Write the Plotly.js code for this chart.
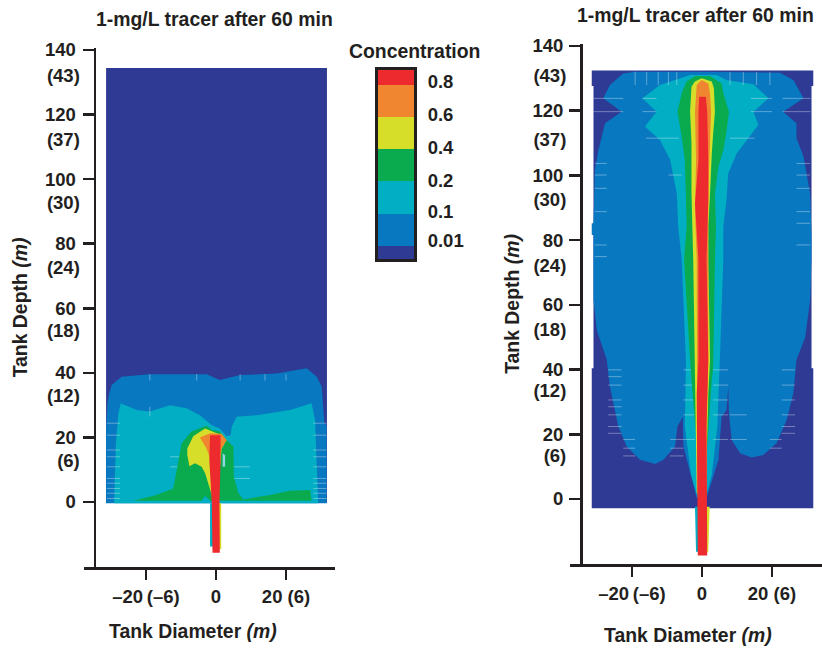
<!DOCTYPE html>
<html>
<head>
<meta charset="utf-8">
<script src="https://cdn.plot.ly/plotly-3.0.1.min.js"></script>
<style>html,body{margin:0;padding:0;background:#fff}#c{width:822px;height:649px}</style>
</head>
<body>
<div id="c"></div>
<script>
// ---------- colours / tick text ----------
const levelNames = ['0.01','0.1','0.2','0.4','0.6','0.8'];
const navy='#2e3a94', blue='#0878c0', cyan='#02aec4', green='#0aab4e', yellow='#d7de2a', orange='#f0862f', red='#ed2a2e';
const depthTicks = [0,20,40,60,80,100,120,140];
const depthText = ['0','20','40','60','80','100','120','140'];
const metreText = ['(6)','(12)','(18)','(24)','(30)','(37)','(43)'];
const leftMetrePos = [13.0,33.1,53.0,72.5,92.9,112.4,132.2];
const rightMetrePos = [13.3,33.4,52.5,72.0,92.4,111.2,131.0];
const diamTicks = [-20,0,20];
const diamText = ['\u201320\u2009(\u20136)','0','20 (6)'];

// ---------- left panel regions (x = diameter ft, y = depth ft) ----------
const Lnavy_x=[-31.4,31.7,31.7,-31.4];
const Lnavy_y=[-0.3,-0.3,134.4,134.4];
const Lblue_x=[-31.4,-31.4,-31.0,-30.5,-29.8,-27.0,-18.9,-2.7,1.1,6.9,17.3,25.9,28.8,30.2,31.0,31.6,31.6];
const Lblue_y=[-0.4,22.3,30.6,33.7,36.2,38.8,39.6,39.6,37.8,39.3,39.8,41.4,38.8,35.7,24.4,23.8,-0.4];
const Lcyan_x=[-29.1,-28.6,-27.9,-27.2,-22.7,-18.9,-13.1,-8.4,-4.6,-1.2,1.1,3.0,4.2,4.5,5.9,11.6,21.1,27.3,28.3,29.2];
const Lcyan_y=[-0.4,18.2,27.5,30.6,28.5,28.0,30.0,29.0,26.9,23.8,22.8,20.4,20.7,23.3,26.4,26.9,28.5,30.6,25.4,-0.4];
const Lgreen_x=[-23.6,-17.0,-12.2,-10.8,-9.8,-7.0,-2.7,-1.2,1.1,3.5,5.0,5.1,6.4,7.8,15.4,21.1,26.9,27.3,1.6,-1.7,-3.1,-4.1];
const Lgreen_y=[0.4,2.2,4.2,13.0,18.2,21.8,23.6,22.3,21.8,18.7,17.1,7.8,2.7,0.8,2.2,3.5,3.7,0.4,0.4,0.4,1.9,0.4];
const Lspot_x=[1.9,2.6,2.6,1.9];
const Lspot_y=[15.1,14.5,11.0,10.9];
const Lyellow_x=[-8.2,-6.5,-3.1,-0.8,1.6,3.0,1.6,1.0,0.5,-0.8,-1.2,-3.1,-4.1,-6.0,-7.6,-8.2];
const Lyellow_y=[16.6,20.4,22.8,21.8,20.7,19.2,16.6,8.9,-0.4,-0.4,2.2,8.9,10.9,12.0,11.1,14.6];
const Lorange_x=[-4.6,-1.7,1.6,3.0,1.6,0.7,-1.2,-2.7];
const Lorange_y=[20.0,21.3,21.1,19.2,16.6,13.0,12.0,16.6];
const Lstemc_x=[-1.7,-1.7,0,0];
const Lstemc_y=[-0.4,-13.8,-13.8,-0.4];
const Lstemy_x=[0,0,1.5,1.5];
const Lstemy_y=[-0.4,-14.6,-14.6,-0.4];
const Lred_x=[-1.7,1.3,1.3,1.0,1.1,-1.0,-1.2,-1.9];
const Lred_y=[20.7,20.7,13.0,-0.4,-15.7,-15.7,-0.4,13.0];

// ---------- right panel regions ----------
const Rnavy_x=[-31.5,31.8,31.8,31.3,31.3,31.8,31.8,-31.5,-31.5,-31.0,-31.0,-31.5];
const Rnavy_y=[-2.9,-2.9,40.4,40.4,127.6,127.6,132.4,132.4,127.6,127.6,40.4,40.4];
const Rblue_x=[-22.5,-19.1,-2.5,22.3,26.1,29.0,23.2,27.0,27.0,29.0,30.9,31.3,31.3,30.9,29.5,27.0,26.1,24.2,21.3,17.5,14.2,10.9,8.5,7.7,7.5,7.0,5.6,4.7,3.2,1.3,-1.5,-3.0,-5.3,-5.5,-7.0,-7.7,-11.0,-13.4,-17.7,-21.5,-23.9,-26.3,-27.2,-30.0,-31.0,-31.0,-31.0,-31.5,-31.5,-31.0,-30.6,-29.6,-27.7,-23.0,-28.2,-26.3];
const Rblue_y=[131.5,132.0,132.0,131.7,129.5,123.8,119.7,116.1,111.5,105.8,94.5,82.1,73.9,61.5,50.0,43.0,32.7,24.4,17.2,13.6,12.8,14.1,18.2,26.5,34.7,27.5,25.4,12.1,6.9,0.2,0.2,6.9,16.2,25.4,22.4,16.2,12.1,10.8,12.1,16.2,22.4,34.7,43.0,52.0,61.5,73.9,81.6,81.6,85.2,85.2,101.7,107.8,116.1,119.7,123.8,127.9];
const Rcyan_x=[-3.4,4.2,7.0,14.7,19.0,14.7,16.1,12.8,9.9,7.5,7.0,6.1,6.1,5.1,4.4,2.8,1.1,-1.3,-3.1,-4.9,-4.6,-5.8,-6.8,-7.2,-9.1,-12.0,-16.3,-13.0,-17.0,-12.0];
const Rcyan_y=[131.0,131.0,129.5,128.2,123.8,119.7,115.6,110.9,106.8,100.6,92.4,84.2,73.9,43.0,22.4,7.4,0.7,0.7,7.4,22.4,43.0,73.9,84.2,94.5,104.8,110.9,115.1,119.7,123.8,127.9];
const Rgreen_x=[-2.0,2.3,5.6,6.1,7.7,7.0,6.1,4.7,3.7,4.0,3.7,3.2,2.8,1.8,0.9,0.4,-0.6,-1.5,-3.0,-3.4,-5.1,-4.4,-4.6,-4.9,-5.8,-7.0,-5.8,-4.4];
const Rgreen_y=[130.7,130.7,128.4,125.4,119.7,113.5,107.8,102.7,94.5,84.2,73.9,40.9,36.8,22.4,6.9,-0.3,-0.3,17.2,36.8,43.0,73.9,84.2,94.5,104.8,112.0,119.7,125.4,129.0];
const Ryellow_x=[-0.1,2.8,3.4,3.7,3.2,2.8,2.3,1.8,1.8,2.3,1.8,1.1,-1.5,-1.8,-2.0,-2.5,-3.0,-3.0,-3.4,-3.0,-2.0];
const Ryellow_y=[130.0,129.0,126.9,119.7,113.0,106.8,94.5,84.2,73.9,43.0,32.7,1.8,1.8,22.4,43.0,73.9,94.5,109.9,119.7,127.4,129.0];
const Rorange_x=[-0.1,1.8,2.3,2.6,2.1,1.8,1.8,1.8,1.3,1.3,-1.3,-1.3,-1.5,-2.0,-1.7,-2.0,-1.5];
const Rorange_y=[129.5,128.4,125.4,119.7,104.8,89.3,73.9,43.0,22.4,1.8,1.8,43.0,73.9,89.3,104.8,119.7,127.9];
const Rstemc_x=[-2.0,-1.7,0,0];
const Rstemc_y=[-2.4,-16.3,-16.3,-2.4];
const Rstemy_x=[0,0,1.8,2.2];
const Rstemy_y=[-2.4,-16.3,-16.3,-2.4];
const Rred_x=[-0.8,1.1,1.5,1.8,1.8,1.3,1.8,1.3,1.5,-1.2,-1.5,-1.0,-1.0,-2.0,-1.0,-1.0];
const Rred_y=[124.3,124.3,119.7,104.8,92.4,73.9,43.0,22.4,-17.5,-17.5,32.7,43.0,73.9,91.4,104.8,119.7];

// ---------- pale mesh marks ----------
const Lmesh_x=[-31.2,-27.4,null,-31.2,-27.4,null,-31.2,-27.4,null,-31.2,-27.4,null,-31.2,-27.4,null,-31.2,-27.4,null,-31.2,-27.4,null,-31.2,-27.4,null,-31.2,-27.4,null,-31.2,-27.4,null,
 27.8,31.6,null,27.8,31.6,null,27.8,31.6,null,27.8,31.6,null,27.8,31.6,null,27.8,31.6,null,27.8,31.6,null,27.8,31.6,null,27.8,31.6,null,27.8,31.6,null,
 -13.1,-8.4,null,-13.1,-8.4,null,5.0,9.7,null,5.0,9.7,null,-18.9,-18.9,null,-18.9,-18.9,null,-5.5,-5.5,null,6.9,6.9,null,14.0,14.0,null,20.0,20.0];
const Lmesh_y=[24.4,24.4,null,20.7,20.7,null,16.1,16.1,null,14.0,14.0,null,10.9,10.9,null,7.3,7.3,null,5.8,5.8,null,4.2,4.2,null,2.7,2.7,null,1.1,1.1,null,
 24.4,24.4,null,20.7,20.7,null,16.1,16.1,null,14.0,14.0,null,10.9,10.9,null,7.3,7.3,null,5.8,5.8,null,4.2,4.2,null,2.7,2.7,null,1.1,1.1,null,
 14.0,14.0,null,10.9,10.9,null,10.9,10.9,null,7.3,7.3,null,26.5,29.5,null,37.6,39.6,null,37.6,39.6,null,37.6,39.6,null,37.6,39.6,null,37.6,39.6];
const Rmesh_x=[-26.8,-23,null,-26.8,-23,null,-26.8,-23,null,-26.8,-23,null,-26.8,-23,null,-26.8,-23,null,-26.8,-23,null,-26.8,-23,null,
 -22.5,-19.1,null,-22.5,-19.1,null,-22.5,-19.1,null,-9.1,-5.3,null,-9.1,-5.3,null,-9.1,-5.3,null,
 -5.3,-2,null,-5.3,-2,null,-5.3,-2,null,-5.3,-2,null,-5.3,-2,null,3.2,7.5,null,3.2,7.5,null,3.2,7.5,null,3.2,7.5,null,3.2,7.5,null,
 8,12.8,null,8,12.8,null,19.4,22.8,null,19.4,22.8,null,22.8,26.6,null,22.8,26.6,null,22.8,26.6,null,22.8,26.6,null,22.8,26.6,null,22.8,26.6,null,
 -30.6,-27.2,null,-30.6,-27.2,null,-30.6,-27.2,null,-30.6,-27.2,null,-30.6,-27.2,null,-30.6,-27.2,null,
 27,30.9,null,27,30.9,null,27,30.9,null,27,30.9,null,27,30.9,null,27,30.9,null,-9.6,-5.8,null,
 -31,-22.5,null,-17,-13,null,-31,-22.5,null,-17,-13,null,14,20,null,23,31,null,14,20,null,23,31,null,-16,-6.6,null,8,15,null,
 -19.1,-19.1,null,-15.8,-15.8,null,-12.5,-12.5,null,-9.6,-9.6,null,-7.2,-7.2,null,8,8,null,11.8,11.8,null,15.6,15.6,null,19.4,19.4];
const Rmesh_y=[39.9,39.9,null,37.8,37.8,null,35.2,35.2,null,30.6,30.6,null,28.5,28.5,null,26,26,null,22.4,22.4,null,20.3,20.3,null,
 18.4,18.4,null,15.7,15.7,null,13.3,13.3,null,18.4,18.4,null,15.7,15.7,null,13.3,13.3,null,
 39.9,39.9,null,35.2,35.2,null,30.6,30.6,null,26,26,null,18.4,18.4,null,39.9,39.9,null,35.2,35.2,null,30.6,30.6,null,26,26,null,18.4,18.4,null,
 26,26,null,18.4,18.4,null,18.4,18.4,null,15.7,15.7,null,39.9,39.9,null,35.2,35.2,null,30.6,30.6,null,26,26,null,22.4,22.4,null,20.3,20.3,null,
 103.7,103.7,null,100.1,100.1,null,96,96,null,88.8,88.8,null,78.5,78.5,null,74.9,74.9,null,
 103.7,103.7,null,100.1,100.1,null,96,96,null,88.8,88.8,null,85.2,85.2,null,78.5,78.5,null,100.1,100.1,null,
 123.8,123.8,null,123.8,123.8,null,119.7,119.7,null,119.7,119.7,null,123.8,123.8,null,123.8,123.8,null,119.7,119.7,null,119.7,119.7,null,111.5,111.5,null,111.5,111.5,null,
 127.9,132,null,127.9,132,null,127.9,132,null,127.9,132,null,127.9,132,null,127.9,132,null,127.9,132,null,127.9,132,null,127.9,132];

// ---------- colour key ----------
const keyBandNames=['<0.01','0.01-0.1','0.1-0.2','0.2-0.4','0.4-0.6','0.6-0.8','>0.8'];
const keyBandHeights=[13,32,32,32,32,32,15];
const keyBandColors=[navy,blue,cyan,green,yellow,orange,red];
const keyLabelPos=[18,47,78,111,143,176];

// ---------- helpers ----------
const W=822,H=649;
const dx=(a,b)=>[a/W,b/W];
const dy=(top,bot)=>[1-bot/H,1-top/H];
const area=(x,y,c,xa,ya,name)=>({type:'scatter',mode:'lines',x:x,y:y,fill:'toself',fillcolor:c,line:{width:0,color:c},xaxis:xa,yaxis:ya,name:name,hoverinfo:'name',showlegend:false});
const mesh=(x,y,xa,ya)=>({type:'scatter',mode:'lines',x:x,y:y,line:{width:1,color:'rgba(255,255,255,0.35)'},xaxis:xa,yaxis:ya,hoverinfo:'skip',showlegend:false,connectgaps:false});

const traces=[
 area(Lnavy_x,Lnavy_y,navy,'x','y','<0.01'),
 area(Lblue_x,Lblue_y,blue,'x','y','0.01'),
 area(Lcyan_x,Lcyan_y,cyan,'x','y','0.1'),
 mesh(Lmesh_x,Lmesh_y,'x','y'),
 area(Lgreen_x,Lgreen_y,green,'x','y','0.2'),
 area(Lspot_x,Lspot_y,'#8fd6df','x','y','0.1'),
 area(Lstemc_x,Lstemc_y,cyan,'x','y','0.1'),
 area(Lstemy_x,Lstemy_y,yellow,'x','y','0.4'),
 area(Lyellow_x,Lyellow_y,yellow,'x','y','0.4'),
 area(Lorange_x,Lorange_y,orange,'x','y','0.6'),
 area(Lred_x,Lred_y,red,'x','y','0.8'),
 area(Rnavy_x,Rnavy_y,navy,'x2','y2','<0.01'),
 area(Rblue_x,Rblue_y,blue,'x2','y2','0.01'),
 area(Rcyan_x,Rcyan_y,cyan,'x2','y2','0.1'),
 mesh(Rmesh_x,Rmesh_y,'x2','y2'),
 area(Rgreen_x,Rgreen_y,green,'x2','y2','0.2'),
 area(Rstemc_x,Rstemc_y,cyan,'x2','y2','0.1'),
 area(Rstemy_x,Rstemy_y,yellow,'x2','y2','0.4'),
 area(Ryellow_x,Ryellow_y,yellow,'x2','y2','0.4'),
 area(Rorange_x,Rorange_y,orange,'x2','y2','0.6'),
 area(Rred_x,Rred_y,red,'x2','y2','0.8')
];
keyBandHeights.forEach((h,i)=>traces.push({type:'bar',x:[0],y:[h],width:1,marker:{color:keyBandColors[i],line:{width:0}},xaxis:'x3',yaxis:'y3',name:keyBandNames[i],hoverinfo:'name',showlegend:false}));

const ink='#231f20';
const bold=(s)=>({family:'"Liberation Sans", Arial, sans-serif',size:s,color:ink,weight:700});
const labelFont=bold(18.5), titleFont=bold(19.4);

const xAxis=(dom,range)=>({domain:dom,range:range,showgrid:false,zeroline:false,showline:true,linewidth:2.5,linecolor:ink,ticks:'outside',ticklen:10,tickwidth:2.5,tickcolor:ink,tickmode:'array',tickvals:diamTicks,ticktext:diamText,tickfont:labelFont,ticklabelstandoff:1,fixedrange:true});
const yAxis=(dom,range,pos,standoff,off)=>({domain:dom,range:range,anchor:'free',position:pos,showgrid:false,zeroline:false,showline:true,linewidth:2.5,linecolor:ink,ticks:'outside',ticklen:11,tickwidth:2.5,tickcolor:ink,tickmode:'array',tickvals:depthTicks,ticktext:depthText,tickfont:labelFont,ticklabelstandoff:off,fixedrange:true,title:{text:'Tank Depth <i>(m)</i>',font:titleFont,standoff:standoff}});
const metreAxis=(dom,range,over,pos,xpos)=>({domain:dom,range:range,overlaying:over,anchor:'free',position:xpos,side:'left',showgrid:false,zeroline:false,showline:false,ticks:'outside',ticklen:11,tickwidth:0,tickcolor:'rgba(0,0,0,0)',tickmode:'array',tickvals:pos,ticktext:metreText,tickfont:labelFont,fixedrange:true});

const LxDom=dx(84,335), LyDom=dy(48,567), RxDom=dx(570,822), RyDom=dy(44,564);
const Lxr=[-37.71,34.0], Lyr=[-20.13,140.6];
const Rxr=[-37.71,34.29], Ryr=[-20.09,140.6];
const LyPos=94.5/W, RyPos=581/W;

const mkTitle=(t,x,y)=>({text:t,xref:'paper',yref:'paper',x:x/W,y:1-y/H,xanchor:'center',yanchor:'middle',showarrow:false,font:titleFont});

const layout={
 width:W,height:H,margin:{l:0,r:0,t:0,b:0},paper_bgcolor:'#fff',plot_bgcolor:'rgba(0,0,0,0)',
 showlegend:false,barmode:'stack',bargap:0,
 xaxis:Object.assign(xAxis(LxDom,Lxr),{anchor:'y'}),
 yaxis:yAxis(LyDom,Lyr,LyPos,11,3),
 xaxis2:Object.assign(xAxis(RxDom,Rxr),{anchor:'y2'}),
 yaxis2:yAxis(RyDom,Ryr,RyPos,6,2),
 xaxis3:{domain:dx(378,414),range:[-0.5,0.5],anchor:'y3',showline:true,mirror:true,linewidth:3,linecolor:ink,showticklabels:false,ticks:'',showgrid:false,zeroline:false,fixedrange:true},
 yaxis3:{domain:dy(69.5,259),range:[0,188],anchor:'x3',side:'right',showline:true,mirror:true,linewidth:3,linecolor:ink,ticks:'',showgrid:false,zeroline:false,tickmode:'array',tickvals:keyLabelPos,ticktext:levelNames,tickfont:labelFont,ticklabelstandoff:7,fixedrange:true},
 yaxis4:metreAxis(LyDom,Lyr,'y',leftMetrePos,LyPos),
 yaxis5:metreAxis(RyDom,Ryr,'y2',rightMetrePos,RyPos),
 annotations:[
  mkTitle('1-mg/L tracer after 60 min',214,19),
  mkTitle('1-mg/L tracer after 60 min',695,15),
  mkTitle('Tank Diameter <i>(m)</i>',193,631),
  mkTitle('Tank Diameter <i>(m)</i>',688,635),
  mkTitle('Concentration',414,51)
 ]
};
// empty traces so the label-only axes are drawn
traces.push({type:'scatter',x:[],y:[],xaxis:'x',yaxis:'y4',hoverinfo:'skip',showlegend:false});
traces.push({type:'scatter',x:[],y:[],xaxis:'x2',yaxis:'y5',hoverinfo:'skip',showlegend:false});
Plotly.newPlot('c',traces,layout,{displayModeBar:false,staticPlot:true});
</script>
</body>
</html>
